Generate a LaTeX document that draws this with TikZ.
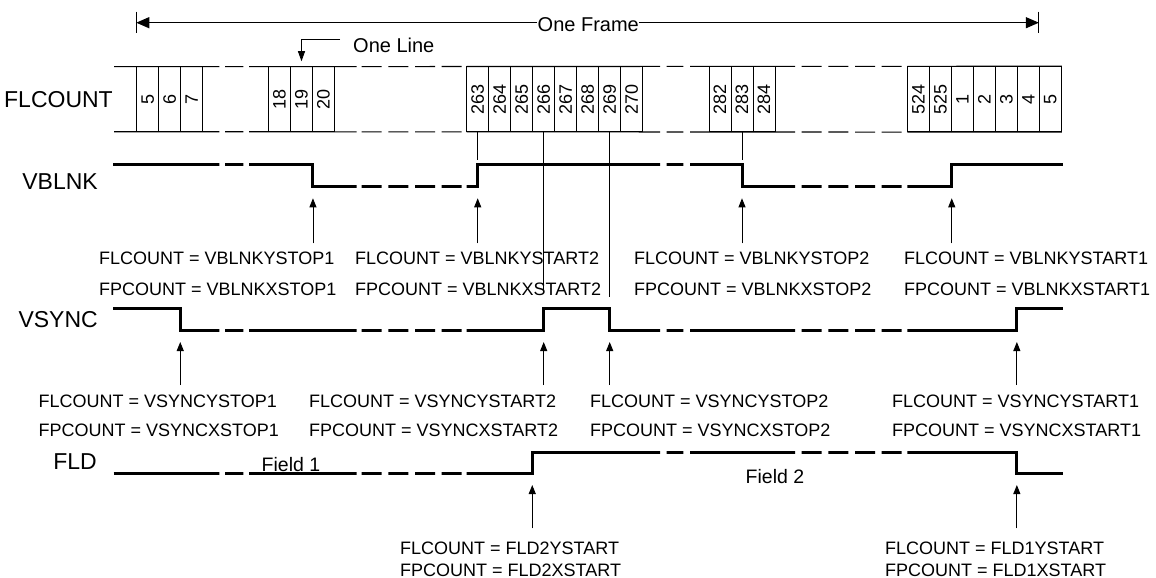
\documentclass[tikz,border=0pt]{standalone}
\usepackage{fontspec}
\setmainfont{Liberation Sans}
\usetikzlibrary{arrows.meta}

\begin{document}
\begin{tikzpicture}[x=1pt, y=-1pt,
    cell/.style={draw, line width=0.9pt, minimum width=22pt, minimum height=65pt, inner sep=0pt, font=\fontsize{18}{18}\selectfont},
    rowline/.style={line width=1.1pt},
    wave/.style={line width=3pt},
    tick/.style={line width=0.8pt},
    pointer/.style={line width=0.9pt, -{Triangle[length=9pt,width=7pt]}},
    eqn/.style={anchor=west, inner sep=0pt, font=\fontsize{18}{18}\selectfont},
    signame/.style={anchor=east, inner sep=0pt, font=\fontsize{23}{23}\selectfont}]
    \useasboundingbox (0,0) rectangle (1156,578);

    % FLCOUNT cells
    \foreach \n [count=\i from 0] in {5,6,7}
      \node[cell] (c\n) at (147.7+22*\i,99.2) {\rotatebox{90}{\n}};
    \foreach \n [count=\i from 0] in {18,19,20}
      \node[cell] (c\n) at (279.5+22*\i,99.2) {\rotatebox{90}{\n}};
    \foreach \n [count=\i from 0] in {263,...,270}
      \node[cell] (c\n) at (477.7+22*\i,99.2) {\rotatebox{90}{\n}};
    \foreach \n [count=\i from 0] in {282,283,284}
      \node[cell] (c\n) at (720+22*\i,99.2) {\rotatebox{90}{\n}};
    \foreach \n/\id [count=\i from 0] in {524/524,525/525,1/1,2/2,3/3,4/4,5/5b}
      \node[cell] (c\id) at (918.3+22*\i,99.2) {\rotatebox{90}{\n}};

    % signal levels
    \coordinate (vbhi) at (0,164.3);
    \coordinate (vblo) at (0,186.7);
    \coordinate (vshi) at (0,308.3);
    \coordinate (vslo) at (0,330);
    \coordinate (fdhi) at (0,452);
    \coordinate (fdlo) at (0,473.3);

    % broken time axis
    \begin{scope}
      \clip \foreach \a/\b in {110/219.3, 225/243.3, 249/356.7, 361.7/381.7, 388.3/408.3,
          415/435, 441.7/461.7, 466.7/660, 666.7/683.3, 690/795, 801.7/821.7,
          828.3/848.3, 855/875, 881.7/901.7, 907.3/1070} {(\a,0) rectangle (\b,578)};
      \draw[rowline] (114,66.7) -- (c5b.north east);
      \draw[rowline] (114,131.7) -- (c5b.south east);
      \draw[wave] (113,164.3) -- (c19.east |- vbhi) -- (c19.east |- vblo) -- (c263 |- vblo)
        -- (c263 |- vbhi) -- (c283 |- vbhi) -- (c283 |- vblo) -- (c525.east |- vblo)
        -- (c525.east |- vbhi) -- (1063,164.3);
      \draw[wave] (113,308.3) -- (c7.west |- vshi) -- (c7.west |- vslo) -- (c266 |- vslo)
        -- (c266 |- vshi) -- (c269 |- vshi) -- (c269 |- vslo) -- (c4.west |- vslo)
        -- (c4.west |- vshi) -- (1063,308.3);
      \draw[wave] (113.5,473.3) -- (c266.west |- fdlo) -- (c266.west |- fdhi)
        -- (c4.west |- fdhi) -- (c4.west |- fdlo) -- (1063,473.3);
    \end{scope}

    % One Frame
    \coordinate (fl) at (c5.west |- 0,22.7);
    \coordinate (fr) at (c5b.west |- 0,22.7);
    \draw[line width=1.2pt, {Triangle[length=13pt,width=11pt]}-{Triangle[length=13pt,width=11pt]}] (fl) -- (fr);
    \draw[tick, line width=1pt] ([yshift=11pt]fl) -- ([yshift=-10.6pt]fl);
    \draw[tick, line width=1pt] ([yshift=11pt]fr) -- ([yshift=-10.6pt]fr);
    \node[fill=white, inner xsep=0.5pt, inner ysep=1pt, anchor=base, font=\fontsize{20}{20}\selectfont] (frame) at (588.3,31.7) {One Frame};

    % One Line
    \node[anchor=west, inner sep=0pt, font=\fontsize{20}{20}\selectfont] (oneline) at (353,45) {One Line};
    \draw[line width=0.9pt, -{Triangle[length=10pt,width=7pt]}] ([xshift=-13pt,yshift=6pt]oneline.west) -| ([yshift=5pt]c19.north);

    % signal names
    \node[signame] (flcount) at (113,99.2) {FLCOUNT};
    \node[signame] (vblnk) at (98,182) {VBLNK};
    \node[signame] (vsync) at (98,320) {VSYNC};
    \node[signame] (fld) at (97,461.7) {FLD};
    \node[font=\fontsize{19.5}{19.5}\selectfont, inner sep=0pt] (field1) at (291,465) {Field 1};
    \node[font=\fontsize{19.5}{19.5}\selectfont, inner sep=0pt] (field2) at (775,477) {Field 2};

    % count marks
    \draw[tick] (c263.south) -- ++(0,28.3);
    \draw[tick] (c266.south) -- ++(0,160.6);
    \draw[tick] (c269.south) -- ++(0,165.3);
    \draw[tick] (c283.south) -- ++(0,28.3);

    % VBLNK events
    \foreach \c in {c19.east, c263, c283, c525.east}
      \draw[pointer] (\c |- 0,243.3) -- (\c |- 0,198.3);
    \foreach \x/\a/\b in {99/VBLNKYSTOP1/VBLNKXSTOP1, 355/VBLNKYSTART2/VBLNKXSTART2,
        634/VBLNKYSTOP2/VBLNKXSTOP2, 904/VBLNKYSTART1/VBLNKXSTART1} {
      \node[eqn] (l\a) at (\x,258.3) {FLCOUNT = \a};
      \node[eqn] (l\b) at (\x,289) {FPCOUNT = \b};
    }

    % VSYNC events
    \foreach \c in {c7.west, c266, c269, c4.west}
      \draw[pointer] (\c |- 0,385) -- (\c |- 0,342);
    \foreach \x/\a/\b in {38.5/VSYNCYSTOP1/VSYNCXSTOP1, 309/VSYNCYSTART2/VSYNCXSTART2,
        590/VSYNCYSTOP2/VSYNCXSTOP2, 892/VSYNCYSTART1/VSYNCXSTART1} {
      \node[eqn] (l\a) at (\x,401.7) {FLCOUNT = \a};
      \node[eqn] (l\b) at (\x,430.5) {FPCOUNT = \b};
    }

    % FLD events
    \foreach \c in {c266.west, c4.west}
      \draw[pointer] (\c |- 0,528.3) -- (\c |- 0,485);
    \foreach \x/\a/\b in {400/FLD2YSTART/FLD2XSTART, 885/FLD1YSTART/FLD1XSTART} {
      \node[eqn] (l\a) at (\x,548.3) {FLCOUNT = \a};
      \node[eqn] (l\b) at (\x,570) {FPCOUNT = \b};
    }
\end{tikzpicture}
\end{document}
